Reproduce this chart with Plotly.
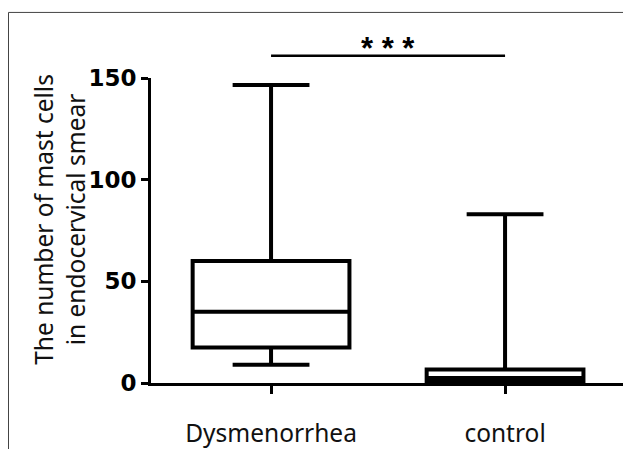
import plotly.graph_objects as go

categories = ["Dysmenorrhea", "control"]
minimum = [9, 0]
q1 = [17.5, 1]
median = [35, 2.5]
q3 = [60, 6.7]
maximum = [146.5, 83]
y_ticks = [0, 50, 100, 150]
y_title = "The number of mast cells<br>in endocervical smear"
sig_text = "* * *"

# page body has an 8px margin; figure placed at (8, 8)
OFF = 8
W, H = 631 - 2 * OFF, 457 - 2 * OFF
L, R, T = 151 - OFF, 8 - OFF, 78 - OFF
B = H - (392 - OFF)
pw, ph = W - L - R, H - T - B


def px_x(px):
    return (px - OFF - L) / pw


def px_y(py):
    return (H - B - (py - OFF)) / ph


fig = go.Figure()
for i, c in enumerate(categories):
    fig.add_trace(go.Box(
        x=[i], q1=[q1[i]], median=[median[i]], q3=[q3[i]],
        lowerfence=[minimum[i]], upperfence=[maximum[i]],
        name=c, width=0.67, whiskerwidth=0.49,
        fillcolor="white", line=dict(color="black", width=4),
        boxpoints=False, showlegend=False, hoverinfo="skip"))

shapes = [
    dict(type="line", xref="x", yref="paper", x0=0, x1=1,
         y0=px_y(55), y1=px_y(55),
         line=dict(color="black", width=2.5)),
    dict(type="line", xref="paper", yref="paper",
         x0=px_x(8.5), x1=px_x(8.5), y0=px_y(10.5), y1=px_y(470),
         line=dict(color="#444", width=1)),
    dict(type="line", xref="paper", yref="paper",
         x0=px_x(8.5), x1=px_x(650), y0=px_y(10.5), y1=px_y(10.5),
         line=dict(color="#444", width=1)),
]

annotations = [
    dict(text=sig_text, xref="x", yref="paper", x=0.5, y=px_y(48),
         showarrow=False, xanchor="center", yanchor="middle",
         font=dict(family="Liberation Sans", size=31, color="black",
                   weight="bold")),
    dict(text=y_title, xref="paper", yref="paper",
         x=px_x(60), y=px_y(224), textangle=-90,
         showarrow=False, xanchor="center", yanchor="middle",
         font=dict(family="Noto Sans", size=24.5, color="#111")),
]

fig.update_layout(
    width=W, height=H, margin=dict(l=L, r=R, t=T, b=B),
    paper_bgcolor="white", plot_bgcolor="white",
    shapes=shapes, annotations=annotations,
    xaxis=dict(range=[-0.513, 1.504], tickvals=[0, 1], ticktext=categories,
               showgrid=False, zeroline=False, showline=True,
               linecolor="black", linewidth=3, ticks="outside",
               ticklen=8, tickwidth=2.5, tickcolor="black",
               ticklabelstandoff=19,
               tickfont=dict(family="Noto Sans", size=24.5, color="#111")),
    yaxis=dict(range=[0, 150], tickvals=y_ticks,
               showgrid=False, zeroline=False, showline=True,
               linecolor="black", linewidth=3, ticks="outside",
               ticklen=7, tickwidth=2.5, tickcolor="black",
               ticklabelstandoff=0,
               tickfont=dict(family="DejaVu Sans", size=23,
                             color="black", weight="bold")),
)

fig.write_html("out.html", config={"displayModeBar": False})
